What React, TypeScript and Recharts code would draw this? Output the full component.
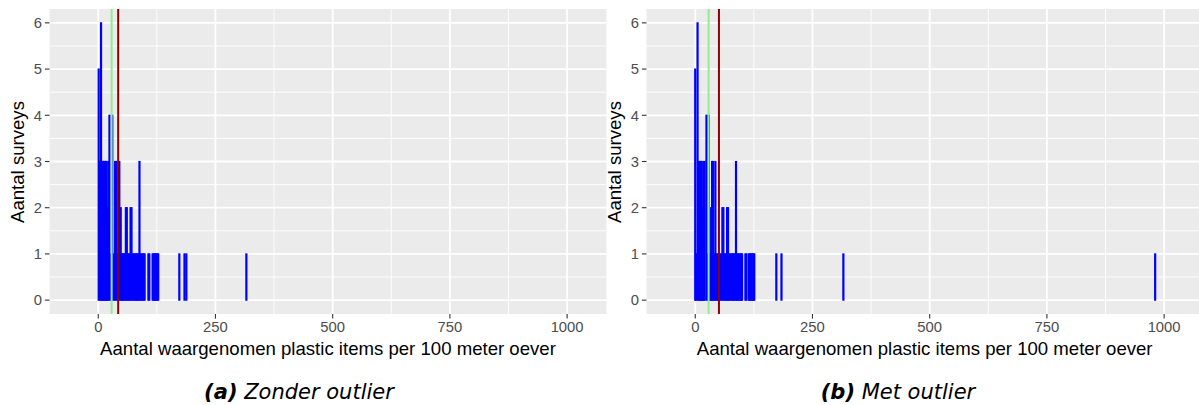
import { ComposedChart, Bar, XAxis, YAxis, CartesianGrid, ReferenceLine } from 'recharts';

// axis ticks
const xTicks = [0, 250, 500, 750, 1000];
const xMinor = [125, 375, 625, 875];
const yTicks = [0, 1, 2, 3, 4, 5, 6];
const yMinor = [0.5, 1.5, 2.5, 3.5, 4.5, 5.5];

// (a) zonder outlier: observed value -> number of surveys
const valuesA = [1, 3, 6, 8, 10, 12, 14, 16, 18, 20, 22, 24, 27, 30, 33, 36, 39, 42, 45, 48, 50, 52, 54, 56, 59, 61, 64, 66, 69, 71, 74, 76, 79, 81, 83, 85, 88, 90, 92, 95, 97, 99, 107, 109, 116, 118, 120, 122, 124, 126, 128, 173, 184, 188, 316];
const countsA = [5, 3, 6, 3, 3, 3, 3, 3, 3, 2, 3, 4, 1, 4, 1, 3, 3, 1, 3, 2, 1, 1, 1, 1, 2, 2, 1, 1, 2, 2, 1, 1, 1, 1, 1, 1, 3, 1, 1, 1, 1, 1, 1, 1, 1, 1, 1, 1, 1, 1, 1, 1, 1, 1, 1];
const medianA = 28.5;
const meanA = 42.5;

// (b) met outlier
const valuesB = [0, 2, 5, 8, 10, 12, 14, 16, 18, 20, 24, 27, 29, 32, 34, 36, 38, 41, 43, 46, 48, 50, 52, 55, 58, 60, 63, 65, 68, 70, 72, 75, 78, 80, 82, 84, 87, 89, 91, 94, 96, 98, 100, 107, 109, 114, 116, 118, 120, 122, 124, 126, 173, 184, 316, 981];
const countsB = [5, 1, 6, 3, 3, 3, 3, 2, 3, 3, 4, 1, 4, 1, 2, 3, 3, 1, 3, 1, 1, 1, 1, 1, 2, 2, 1, 1, 2, 2, 1, 1, 1, 1, 1, 1, 3, 1, 1, 1, 1, 1, 1, 1, 1, 1, 1, 1, 1, 1, 1, 1, 1, 1, 1, 1];
const medianB = 28.5;
const meanB = 50.5;

const font = '"Liberation Sans", Arial, Helvetica, sans-serif';
const capFont = '"DejaVu Sans", sans-serif';

// each bar drawn 2px wide around the centre the library computed
const Spike = (props: any) => {
  const { x, y, width, height } = props;
  if (height == null || height <= 0) return null;
  const cx = x + width / 2;
  return <rect x={cx - 1.1} y={y - 0.6} width={2.2} height={height + 1.2} fill="#0000FF" />;
};

function Panel({ left, values, counts, median, mean, tag, caption, capCenter }: any) {
  const data = values.map((v: number, i: number) => ({ x: v, n: counts[i] }));
  const tickStyle = { fill: '#4D4D4D', fontSize: 14.8, fontFamily: font };

  return (
    <>
      <div style={{ position: 'absolute', left, top: 0 }}>
        <ComposedChart width={607} height={340} data={data} margin={{ top: 9, right: 0.5, left: 0, bottom: 0 }}>
          <CartesianGrid stroke="#FFFFFF" strokeWidth={0.9} fill="#EBEBEB" verticalValues={xMinor} horizontalValues={yMinor} />
          <CartesianGrid stroke="#FFFFFF" strokeWidth={1.8} verticalValues={xTicks} horizontalValues={yTicks} />
          <XAxis
            dataKey="x"
            type="number"
            domain={[-104, 1084]}
            ticks={xTicks}
            interval={0}
            allowDataOverflow
            height={26}
            axisLine={false}
            tickSize={4.6}
            tickMargin={3}
            tickLine={{ stroke: '#333333', strokeWidth: 1.1 }}
            tick={tickStyle}
          />
          <YAxis
            type="number"
            domain={[-0.3, 6.3]}
            ticks={yTicks}
            interval={0}
            allowDataOverflow
            width={49.5}
            axisLine={false}
            tickSize={4.6}
            tickMargin={3}
            tickLine={{ stroke: '#333333', strokeWidth: 1.1 }}
            tick={tickStyle}
          />
          <Bar dataKey="n" fill="#0000FF" barSize={1} shape={Spike} isAnimationActive={false} />
          <ReferenceLine x={median} stroke="#90EE90" strokeWidth={2} />
          <ReferenceLine x={mean} stroke="#8B0000" strokeWidth={2} />
        </ComposedChart>
      </div>
      <div
        style={{
          position: 'absolute', left: left + 18 - 150, top: 161.5 - 11, width: 300, height: 22,
          lineHeight: '22px', textAlign: 'center', transform: 'rotate(-90deg)',
          fontFamily: font, fontSize: 18.6, color: '#000',
        }}
      >
        Aantal surveys
      </div>
      <div
        style={{
          position: 'absolute', left: left + 49.5, top: 338, width: 557, lineHeight: '22px',
          textAlign: 'center', fontFamily: font, fontSize: 18.6, color: '#000',
        }}
      >
        Aantal waargenomen plastic items per 100 meter oever
      </div>
      <div
        style={{
          position: 'absolute', left: capCenter - 200, top: 380, width: 400, lineHeight: '24px',
          textAlign: 'center', fontFamily: capFont, fontSize: 21, fontStyle: 'italic', color: '#000',
        }}
      >
        <b>{tag}</b> {caption}
      </div>
    </>
  );
}

export default function App() {
  return (
    <div style={{ position: 'absolute', left: 0, top: 0, width: 1199, height: 405, overflow: 'hidden', background: '#fff' }}>
      <Panel left={0} values={valuesA} counts={countsA} median={medianA} mean={meanA} tag="(a)" caption="Zonder outlier" capCenter={299} />
      <Panel left={596.7} values={valuesB} counts={countsB} median={medianB} mean={meanB} tag="(b)" caption="Met outlier" capCenter={898} />
    </div>
  );
}
